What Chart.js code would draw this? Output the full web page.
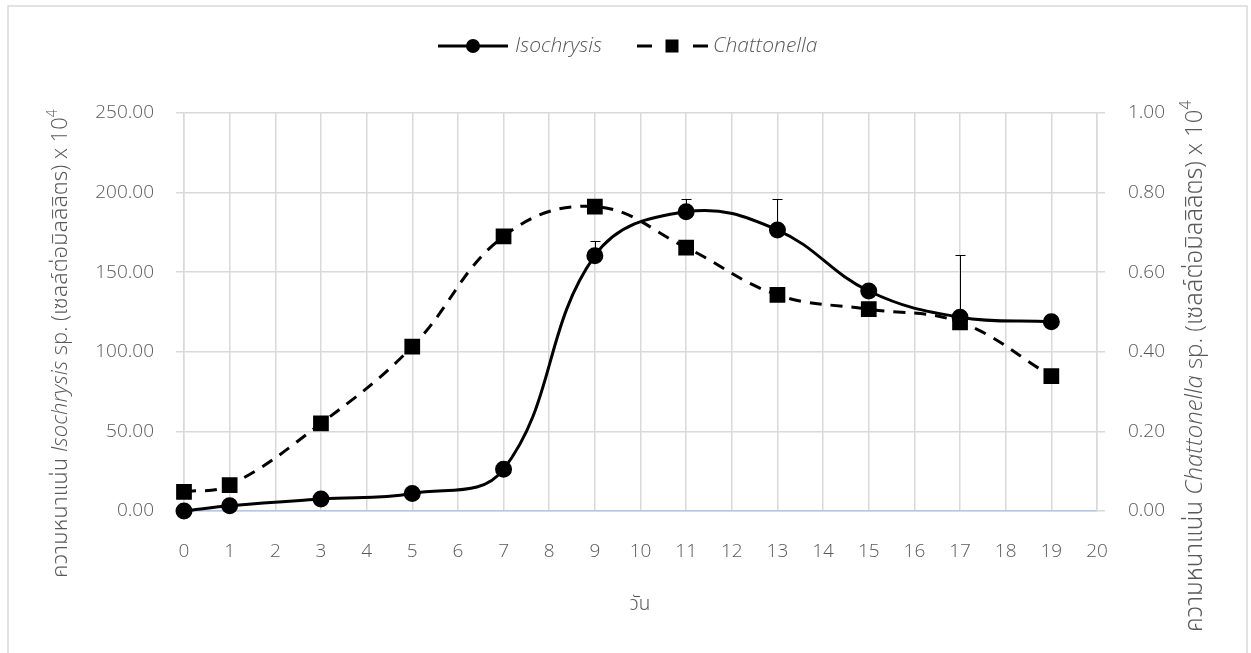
<!DOCTYPE html>
<html>
<head>
<meta charset="utf-8">
<script src="https://cdn.jsdelivr.net/npm/chart.js@4.4.1/dist/chart.umd.min.js"></script>
<style>
html,body{margin:0;padding:0;background:#fff;}
canvas{display:block;}
</style>
</head>
<body>
<canvas id="c" width="1251" height="653"></canvas>
<script>
const days = [0, 1, 3, 5, 7, 9, 11, 13, 15, 17, 19];
const isochrysis = [0, 3.3, 7.5, 11, 26.2, 160.4, 188, 176.5, 138.2, 121.7, 118.9];
const isochrysisErrUp = [0, 0, 0, 0, 0, 9, 8, 19.5, 0, 39, 0];
const chattonella = [0.048, 0.065, 0.22, 0.413, 0.69, 0.765, 0.662, 0.543, 0.507, 0.474, 0.339];
const leftTicks = [0, 50, 100, 150, 200, 250];
const rightTicks = [0, 0.2, 0.4, 0.6, 0.8, 1.0];
const xTicks = [0,1,2,3,4,5,6,7,8,9,10,11,12,13,14,15,16,17,18,19,20];
const seriesNames = ['Isochrysis', 'Chattonella'];
const xTitle = 'วัน';

const FONT = "'Open Sans', 'Noto Sans', 'Noto Sans Thai', 'Leelawadee UI', 'DejaVu Sans', sans-serif";
const TXT = '#595959';
const GRID = '#d9d9d9';

const pairs = (ys) => days.map((d, i) => ({x: d, y: ys[i]}));

function drawRich(ctx, parts, x, y, rot, size) {
  ctx.save();
  ctx.translate(x, y);
  ctx.rotate(rot);
  ctx.textBaseline = 'middle';
  ctx.textAlign = 'left';
  ctx.fillStyle = TXT;
  let cx = 0;
  for (const p of parts) {
    const fs = p.sup ? Math.round(size * 0.65) : size;
    ctx.font = (p.italic ? 'italic ' : '') + '300 ' + fs + 'px ' + FONT;
    ctx.fillText(p.text, cx, p.sup ? -size * 0.35 : 0);
    cx += ctx.measureText(p.text).width;
  }
  ctx.restore();
}

const decor = {
  id: 'decor',
  beforeDraw(chart) {
    const ctx = chart.ctx;
    ctx.save();
    ctx.fillStyle = '#fff';
    ctx.fillRect(0, 0, chart.width, chart.height);
    ctx.strokeStyle = GRID;
    ctx.lineWidth = 1.5;
    ctx.strokeRect(8, 6, 1239, 700);
    ctx.restore();
  },
  afterDatasetsDraw(chart) {
    const ctx = chart.ctx;
    const xs = chart.scales.x, ys = chart.scales.y;
    ctx.save();
    ctx.strokeStyle = '#000';
    ctx.lineWidth = 1;
    days.forEach((d, i) => {
      const e = isochrysisErrUp[i];
      if (!e) return;
      const px = Math.round(xs.getPixelForValue(d)) + 0.5;
      const y0 = ys.getPixelForValue(isochrysis[i]);
      const y1 = Math.round(ys.getPixelForValue(isochrysis[i] + e)) + 0.5;
      ctx.beginPath();
      ctx.moveTo(px, y0);
      ctx.lineTo(px, y1);
      ctx.moveTo(px - 5, y1);
      ctx.lineTo(px + 5, y1);
      ctx.stroke();
    });
    ctx.restore();
  },
  afterDraw(chart) {
    const ctx = chart.ctx;
    const size = 19;
    const lsize = 21;
    // legend
    const ly = 46;
    ctx.save();
    ctx.strokeStyle = '#000';
    ctx.fillStyle = '#000';
    ctx.lineWidth = 3;
    ctx.beginPath(); ctx.moveTo(438, ly); ctx.lineTo(508, ly); ctx.stroke();
    ctx.beginPath(); ctx.arc(473, ly, 7, 0, Math.PI * 2); ctx.fill();
    ctx.beginPath(); ctx.moveTo(637, ly); ctx.lineTo(652, ly); ctx.moveTo(693, ly); ctx.lineTo(708, ly); ctx.stroke();
    ctx.fillRect(672 - 6.5, ly - 6.5, 13, 13);
    ctx.fillStyle = TXT;
    ctx.textBaseline = 'middle';
    ctx.textAlign = 'left';
    ctx.font = 'italic 300 ' + lsize + 'px ' + FONT;
    ctx.fillText(seriesNames[0], 515, ly);
    ctx.fillText(seriesNames[1], 713, ly);
    // x title
    ctx.textAlign = 'center';
    ctx.font = '300 ' + size + 'px ' + FONT;
    ctx.fillText(xTitle, 640, 605);
    ctx.restore();
    // axis titles
    drawRich(ctx, [
      {text: 'ความหนาแน่น '},
      {text: seriesNames[0], italic: true},
      {text: ' sp. (เซลล์ต่อมิลลิลิตร) x 10'},
      {text: '4', sup: true}
    ], 61, 578, -Math.PI / 2, 22);
    drawRich(ctx, [
      {text: 'ความหนาแน่น '},
      {text: seriesNames[1], italic: true},
      {text: ' sp. (เซลล์ต่อมิลลิลิตร) x 10'},
      {text: '4', sup: true}
    ], 1195, 632, -Math.PI / 2, 24);
  }
};

const tickFont = {family: FONT, size: 19, weight: '300'};

new Chart(document.getElementById('c'), {
  type: 'scatter',
  data: {
    datasets: [
      {
        label: seriesNames[0],
        data: pairs(isochrysis),
        yAxisID: 'y',
        showLine: true,
        borderColor: '#000',
        backgroundColor: '#000',
        borderWidth: 3,
        pointStyle: 'circle',
        pointRadius: 7,
        pointHoverRadius: 7,
        tension: 0.4,
        clip: false,
        order: 1
      },
      {
        label: seriesNames[1],
        data: pairs(chattonella),
        yAxisID: 'y2',
        showLine: true,
        borderColor: '#000',
        backgroundColor: '#000',
        borderWidth: 3,
        borderDash: [12, 9],
        pointStyle: 'rect',
        pointRadius: 9,
        pointHoverRadius: 9,
        tension: 0.4,
        clip: false,
        order: 0
      }
    ]
  },
  options: {
    responsive: false,
    animation: false,
    devicePixelRatio: 1,
    layout: {padding: {top: 113, left: 0, right: 0, bottom: 0}},
    plugins: {legend: {display: false}, tooltip: {enabled: false}},
    scales: {
      x: {
        type: 'linear',
        min: 0, max: 20,
        afterBuildTicks: (s) => { s.ticks = xTicks.map(v => ({value: v})); },
        afterFit: (s) => { s.height = 142; },
        ticks: {font: tickFont, color: TXT, padding: 29, maxRotation: 0, autoSkip: false, callback: v => String(v)},
        grid: {color: GRID, lineWidth: 1.5, drawTicks: false},
        border: {color: '#b4c7e7', width: 1.5}
      },
      y: {
        position: 'left',
        min: 0, max: 250,
        afterBuildTicks: (s) => { s.ticks = leftTicks.map(v => ({value: v})); },
        afterFit: (s) => { s.width = 184; },
        ticks: {font: tickFont, color: TXT, padding: 22, callback: v => v.toFixed(2)},
        grid: {color: GRID, lineWidth: 1.5, tickLength: 8},
        border: {color: GRID, width: 1.5}
      },
      y2: {
        position: 'right',
        min: 0, max: 1,
        afterBuildTicks: (s) => { s.ticks = rightTicks.map(v => ({value: v})); },
        afterFit: (s) => { s.width = 154; },
        ticks: {font: tickFont, color: TXT, padding: 23, callback: v => v.toFixed(2)},
        grid: {color: GRID, lineWidth: 1.5, tickLength: 8, drawOnChartArea: false},
        border: {color: GRID, width: 1.5}
      }
    }
  },
  plugins: [decor]
});
</script>
</body>
</html>
